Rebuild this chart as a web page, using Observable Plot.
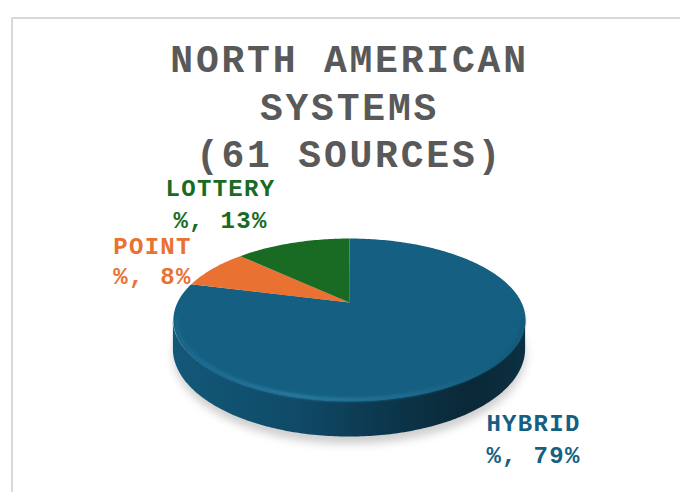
<!DOCTYPE html>
<html><head><meta charset="utf-8">
<style>
html,body{margin:0;padding:0;background:#fff;width:680px;height:492px;overflow:hidden}
#wrap{position:relative;width:680px;height:492px}
#box{position:absolute;left:11px;top:17px;right:-10px;bottom:-10px;border:2px solid #d9d9d9;box-sizing:border-box}
#wrap svg{position:absolute;left:0;top:0;background:transparent;overflow:visible}
.ttl text{letter-spacing:2.8px}
.lab text{letter-spacing:1.3px}
</style>
<script src="https://cdn.jsdelivr.net/npm/d3@7"></script>
<script src="https://cdn.jsdelivr.net/npm/@observablehq/plot@0.6"></script>
</head><body><div id="wrap"><div id="box"></div></div>
<script>
const categories = ["HYBRID", "POINT", "LOTTERY"];
const shares = [79, 8, 13];
const colors = ["#156082", "#E97132", "#196B24"];
const titleLines = ["NORTH AMERICAN", "SYSTEMS", "(61 SOURCES)"];
const labelText = ["HYBRID\n%, 79%", "POINT\n%, 8%", "LOTTERY\n%, 13%"];

// view geometry of the tilted disc (perspective and thickness)
const tilt = 0.2147, depth = 0.36;
const proj = (t, s = 1, drop = 0) => {
  const a = t * 2 * Math.PI, X = Math.sin(a) * s, Y = Math.cos(a) * s, w = 1 + tilt * Y;
  return {u: X / w, v: Y / w, v2: (Y - depth) / w, v3: (Y - drop) / w};
};
const steps = d3.range(0, 361).map(i => i / 360);
const total = d3.sum(shares);
let acc = 0;
const slicePts = [];
categories.forEach((name, i) => {
  const a0 = acc / total, a1 = (acc + shares[i]) / total;
  acc += shares[i];
  slicePts.push({name, u: 0, v: 0});
  const n = Math.ceil((a1 - a0) * 360);
  for (let k = 0; k <= n; k++) slicePts.push({name, ...proj(a0 + (a1 - a0) * k / n)});
});
const yExt = -tilt;                     // where the disc is widest
const tExt = Math.acos(yExt) / (2 * Math.PI);
const front = d3.range(0, 201).map(i => proj(tExt + (1 - 2 * tExt) * i / 200));
const frontInner = front.map((_, i) => proj(tExt + (1 - 2 * tExt) * i / 200, 0.985));
const shadow = steps.map(t => proj(t, 1.0, 0.43));

const defs = () => {
  const ns = "http://www.w3.org/2000/svg";
  const d = document.createElementNS(ns, "defs");
  const grad = (id, stops) => {
    const g = document.createElementNS(ns, "linearGradient");
    g.setAttribute("id", id);
    stops.forEach(([o, c]) => {
      const s = document.createElementNS(ns, "stop");
      s.setAttribute("offset", o); s.setAttribute("stop-color", c); g.appendChild(s);
    });
    d.appendChild(g);
  };
  grad("side", [[0, "#135878"], [0.35, "#0f4a68"], [0.6, "#0c374d"], [0.85, "#0a2836"], [1, "#0c3042"]]);
  grad("rim", [[0, "#1a6a90"], [0.35, "#2f80a8"], [0.7, "#1f6d92"], [1, "#125676"]]);
  return d;
};

const textOpts = (px, py) => ({frameAnchor: "top-left", dx: px, dy: py, textAnchor: "middle", lineAnchor: "bottom",
  fontFamily: "Liberation Mono, monospace", fontWeight: "bold"});

const chart = Plot.plot({
  width: 680, height: 492, margin: 0,
  x: {domain: [-1, 1], range: [177, 521], axis: null},
  y: {domain: [-1, 1], range: [379.7, 224.3], axis: null},
  color: {domain: categories, range: colors},
  style: {background: "transparent"},
  marks: [
    defs,
    Plot.line(shadow, {x: "u", y: "v3", fill: "#cfcfcf", stroke: "none", imageFilter: "blur(4px)"}),
    Plot.areaY(front, {x: "u", y1: "v", y2: "v2", fill: "url(#side)"}),
    Plot.line(slicePts, {x: "u", y: "v", z: "name", fill: "name", stroke: "none"}),
    Plot.line(frontInner, {x: "u", y: "v", stroke: "url(#rim)", strokeWidth: 3, imageFilter: "blur(1.5px)"}),
    Plot.text(titleLines.slice(0, 1), {text: d => d, fontSize: 38, fill: "#595959", className: "ttl", ...textOpts(349, 71)}),
    Plot.text(titleLines.slice(1, 2), {text: d => d, fontSize: 38, fill: "#595959", className: "ttl", ...textOpts(349, 119)}),
    Plot.text(titleLines.slice(2, 3), {text: d => d, fontSize: 38, fill: "#595959", className: "ttl", ...textOpts(349, 166)}),
    Plot.text([labelText[0]], {text: d => d, fontSize: 24, lineHeight: 1.33, fill: colors[0], className: "lab", ...textOpts(533, 462)}),
    Plot.text([labelText[1]], {text: d => d, fontSize: 24, lineHeight: 1.25, fill: colors[1], className: "lab", ...textOpts(152, 283)}),
    Plot.text([labelText[2]], {text: d => d, fontSize: 24, lineHeight: 1.3, fill: colors[2], className: "lab", ...textOpts(220, 227)})
  ]
});
document.getElementById("wrap").appendChild(chart);
</script></body></html>
